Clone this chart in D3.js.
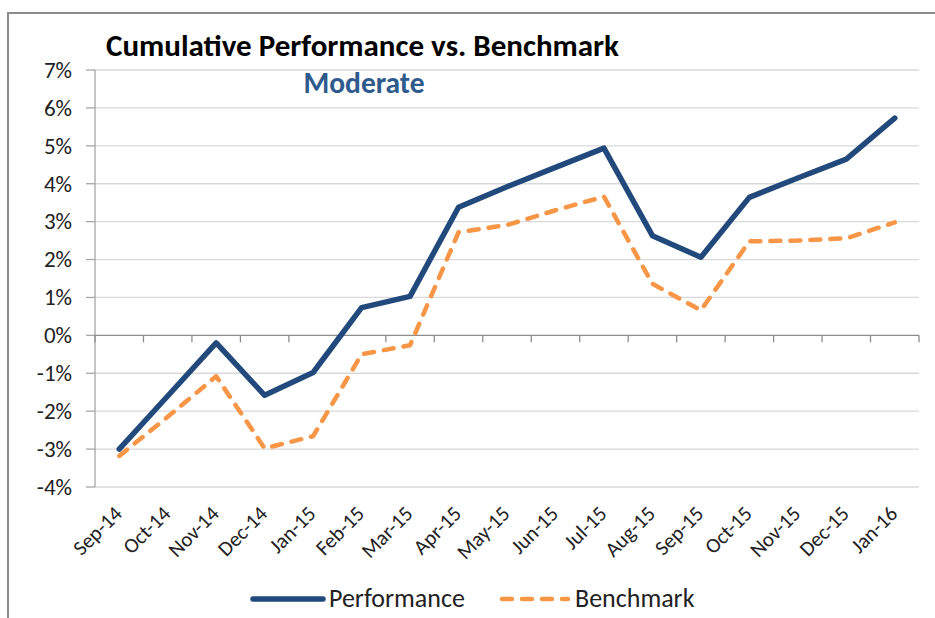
<!DOCTYPE html>
<html lang="en">
<head>
  <meta charset="UTF-8" />
  <title>Cumulative Performance vs. Benchmark</title>
  <script src="https://d3js.org/d3.v7.min.js"></script>
  <style>
    body {
      margin: 0;
      background: #ffffff;
      font-family: Carlito, Calibri, "Open Sans", sans-serif;
    }
    svg { display: block; }
    .grid line { stroke: #d9d9d9; stroke-width: 1.3; }
    .axis-line { stroke: #a6a6a6; stroke-width: 1.3; }
    .tick-label { fill: #222; font-size: 23px; }
    .x-label { fill: #222; font-size: 21px; }
    .legend-label { fill: #222; font-size: 26px; }
  </style>
</head>
<body>
<svg id="chart" width="935" height="618"></svg>

<script>
const months = ["Sep-14", "Oct-14", "Nov-14", "Dec-14", "Jan-15", "Feb-15", "Mar-15", "Apr-15",
  "May-15", "Jun-15", "Jul-15", "Aug-15", "Sep-15", "Oct-15", "Nov-15", "Dec-15", "Jan-16"];

// cumulative returns, in %
const performance = [-3.0, -1.6, -0.2, -1.58, -0.98, 0.73, 1.03, 3.38,
  3.92, 4.43, 4.94, 2.63, 2.06, 3.64, 4.15, 4.65, 5.73];
const benchmark = [-3.18, -2.15, -1.08, -2.98, -2.66, -0.5, -0.26, 2.72,
  2.91, 3.3, 3.66, 1.36, 0.66, 2.48, 2.5, 2.56, 2.98];

const yTicks = [-4, -3, -2, -1, 0, 1, 2, 3, 4, 5, 6, 7];

const seriesNames = ["Performance", "Benchmark"];
const seriesColors = ["#21497c", "#f79646"];

const svg = d3.select("#chart");

// outer chart border (only top and left edges are in frame)
svg.append("path")
  .attr("d", "M8,640 L8,13 L940,13")
  .attr("fill", "none")
  .attr("stroke", "#8c8c8c")
  .attr("stroke-width", 2);

const plot = { left: 95, right: 919, top: 70, bottom: 487 };

const x = d3.scaleBand().domain(months).range([plot.left, plot.right]).padding(0);
const y = d3.scaleLinear().domain([-4, 7]).range([plot.bottom, plot.top]);
const cx = d => x(d) + x.bandwidth() / 2;

// gridlines
svg.append("g").attr("class", "grid")
  .selectAll("line")
  .data(yTicks.filter(d => d !== 0))
  .join("line")
  .attr("x1", plot.left).attr("x2", plot.right)
  .attr("y1", d => y(d)).attr("y2", d => y(d));

// y axis
const yAxis = svg.append("g");
yAxis.append("line").attr("class", "axis-line")
  .attr("x1", plot.left).attr("x2", plot.left)
  .attr("y1", plot.top).attr("y2", plot.bottom);
yAxis.selectAll("line.tk")
  .data(yTicks)
  .join("line")
  .attr("class", "tk axis-line")
  .attr("x1", plot.left - 9).attr("x2", plot.left)
  .attr("y1", d => y(d)).attr("y2", d => y(d));
yAxis.selectAll("text")
  .data(yTicks)
  .join("text")
  .attr("class", "tick-label")
  .attr("x", 72)
  .attr("y", d => y(d))
  .attr("dy", "0.34em")
  .attr("text-anchor", "end")
  .text(d => d + "%");

// x axis along the zero line
const xAxis = svg.append("g");
xAxis.append("line").attr("class", "axis-line")
  .attr("x1", plot.left).attr("x2", plot.right)
  .attr("y1", y(0)).attr("y2", y(0))
  .style("stroke", "#8c8c8c");
xAxis.selectAll("line.tk")
  .data(months.concat(["end"]))
  .join("line")
  .attr("class", "tk axis-line")
  .style("stroke", "#8c8c8c")
  .attr("x1", (d, i) => plot.left + i * x.bandwidth())
  .attr("x2", (d, i) => plot.left + i * x.bandwidth())
  .attr("y1", y(0)).attr("y2", y(0) + 7);

svg.append("g")
  .selectAll("text")
  .data(months)
  .join("text")
  .attr("class", "x-label")
  .attr("text-anchor", "end")
  .attr("transform", d => `translate(${cx(d) + 4},${plot.bottom + 28}) rotate(-45)`)
  .text(d => d);

// lines
const line = d3.line()
  .x((d, i) => cx(months[i]))
  .y(d => y(d));

svg.append("path")
  .datum(benchmark)
  .attr("fill", "none")
  .attr("stroke", seriesColors[1])
  .attr("stroke-width", 4.5)
  .attr("stroke-dasharray", "10,10")
  .attr("stroke-linecap", "round")
  .attr("stroke-linejoin", "round")
  .attr("d", line);

svg.append("path")
  .datum(performance)
  .attr("fill", "none")
  .attr("stroke", seriesColors[0])
  .attr("stroke-width", 5.5)
  .attr("stroke-linecap", "round")
  .attr("stroke-linejoin", "round")
  .attr("d", line);

// titles
svg.append("text")
  .attr("x", 106).attr("y", 56)
  .style("font-size", "31px")
  .style("font-weight", "bold")
  .attr("fill", "#000")
  .text("Cumulative Performance vs. Benchmark");

svg.append("text")
  .attr("x", 364).attr("y", 93)
  .attr("text-anchor", "middle")
  .style("font-size", "29.5px")
  .style("font-weight", "bold")
  .attr("fill", "#2e5a8c")
  .text("Moderate");

// legend
const legendItems = [
  { x1: 253, x2: 323, tx: 329, dash: null, w: 5.5 },
  { x1: 502, x2: 568, tx: 575, dash: "10,10", w: 4.5 }
];
const lg = svg.append("g");
legendItems.forEach((it, i) => {
  lg.append("line")
    .attr("x1", it.x1).attr("x2", it.x2)
    .attr("y1", 599).attr("y2", 599)
    .attr("stroke", seriesColors[i])
    .attr("stroke-width", it.w)
    .attr("stroke-linecap", "round")
    .attr("stroke-dasharray", it.dash);
  lg.append("text")
    .attr("class", "legend-label")
    .attr("x", it.tx).attr("y", 599)
    .attr("dy", "0.32em")
    .text(seriesNames[i]);
});
</script>
</body>
</html>
